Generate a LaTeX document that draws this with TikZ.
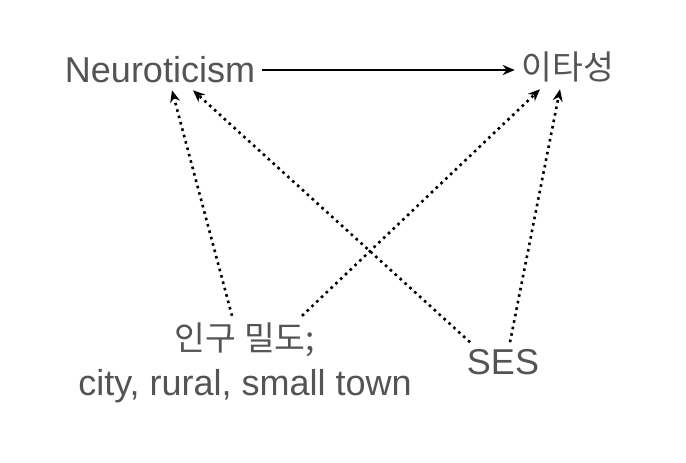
\documentclass[tikz,border=0pt]{standalone}
\usepackage{fontspec}
\setmainfont{Liberation Sans}
\newfontfamily\krfont{Noto Sans CJK KR}[Scale=0.93]
\usetikzlibrary{positioning, arrows.meta, calc}

\begin{document}
\begin{tikzpicture}[
  x=0.5pt, y=-0.5pt,
  font=\fontsize{18}{22.5}\selectfont,
  % Estilos de nodos
  var/.style={text=black!67, align=center},
  % Estilos de flechas
  path/.style={draw, -{Stealth[length=6pt, width=5pt]}, line width=1.1pt},
  cov/.style={draw, -{Stealth[length=6pt, width=5pt]}, line width=1.3pt, dotted}
]
  \useasboundingbox (0,0) rectangle (686,462);

  % --- VARIABLES ---
  \node[var] (neuro) at (160,70) {Neuroticism};
  \node[var] (alt) at (568,67) {\krfont 이타성};
  \node[var] (pop) at (245,363) {{\krfont 인구 밀도;}\\city, rural, small town};
  \node[var] (ses) at (503,362) {SES};

  % --- MAIN PATH ---
  \draw[path] (neuro.east) -- (neuro.east -| alt.west);

  % --- CONTROL PATHS ---
  \draw[cov] ($(pop.north)+(-13,0)$) -- ($(neuro.south)+(12,0)$);
  \draw[cov] ($(pop.north)+(57,0)$) -- ($(alt.south)+(-28,0)$);
  \draw[cov] ($(ses.north)+(-33,0)$) -- ($(neuro.south)+(33,0)$);
  \draw[cov] ($(ses.north)+(7,0)$) -- ($(alt.south)+(-8,0)$);

\end{tikzpicture}
\end{document}
